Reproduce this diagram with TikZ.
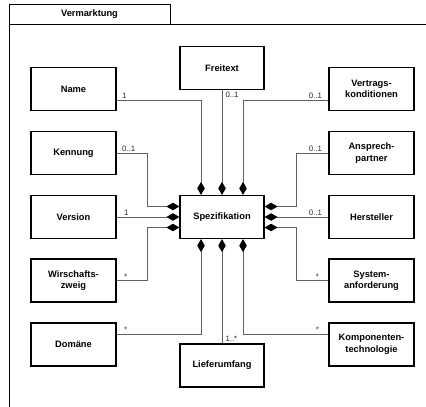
\documentclass[tikz,border=0pt]{standalone}
\usepackage{fontspec}
\setmainfont{Liberation Sans}
\usetikzlibrary{arrows.meta,calc}
\begin{document}
\begin{tikzpicture}[x=1pt,y=-1pt,
 box/.style={draw,line width=1.2pt,minimum width=85pt,minimum height=43pt,align=center,
   font=\bfseries\fontsize{9.3}{11.5}\selectfont,inner sep=0pt},
 cbox/.style={box,minimum width=84pt},
 conn/.style={draw=black!62,line width=1pt,-{Diamond[length=13pt,width=7.5pt,color=black]}},
 mult/.style={font=\fontsize{7.8}{9}\selectfont,inner sep=1pt,text=black!85},
 frame/.style={draw,line width=1pt}]
\useasboundingbox (0,0) rectangle (426,407);
% frame
\draw[frame] (9,407) -- (9,24) -- (426,24);
\node[frame,minimum width=161pt,minimum height=20pt,inner sep=0pt,
  font=\bfseries\fontsize{9.3}{11.5}\selectfont] (tab) at (89.5,14) {Vermarktung};
% left column
\node[box] (name) at (73.5,89) {Name};
\node[box] (kennung) at (73.5,153) {Kennung};
\node[box] (version) at (73.5,217) {Version};
\node[box] (wirt) at (73.5,280.5) {Wirschafts-\\zweig};
\node[box] (domaene) at (73.5,344.5) {Domäne};
% centre column
\node[cbox] (frei) at (222,68) {Freitext};
\node[cbox] (spez) at (222,217) {Spezifikation};
\node[cbox] (liefer) at (222,365.5) {Lieferumfang};
% right column
\node[box] (vertrag) at (371.5,89) {Vertrags-\\konditionen};
\node[box] (ansprech) at (371.5,153) {Ansprech-\\partner};
\node[box] (herst) at (371.5,217) {Hersteller};
\node[box] (system) at (371.5,280.5) {System-\\anforderung};
\node[box] (komp) at (371.5,344.5) {Komponenten-\\technologie};
% connectors top
\draw[conn] ([yshift=-11pt]name.east) node[mult,anchor=south west,xshift=4pt] {1}
  -| ([xshift=-21pt]spez.north);
\draw[conn] (frei.south) node[mult,anchor=north west,xshift=2pt] {0..1}
  -- (spez.north);
\draw[conn] ([yshift=-11pt]vertrag.west) node[mult,anchor=south east,xshift=-5pt] {0..1}
  -| ([xshift=21pt]spez.north);
% connectors left
\draw[conn] (kennung.east) node[mult,anchor=south west,xshift=4pt] {0..1}
  -- ++(31,0) |- ([yshift=10.5pt]spez.west);
\draw[conn] (version.east) node[mult,anchor=south west,xshift=6pt] {1}
  -- (spez.west);
\draw[conn] (wirt.east) node[mult,anchor=south west,xshift=6pt] {*}
  -- ++(31,0) |- ([yshift=-10.5pt]spez.west);
% connectors bottom
\draw[conn] ([yshift=10.5pt]domaene.east) node[mult,anchor=south west,xshift=6pt] {*}
  -| ([xshift=-21pt]spez.south);
\draw[conn] (liefer.north) node[mult,anchor=south west,xshift=2pt] {1..*}
  -- (spez.south);
\draw[conn] ([yshift=10.5pt]komp.west) node[mult,anchor=south east,xshift=-8pt] {*}
  -| ([xshift=21pt]spez.south);
% connectors right
\draw[conn] (ansprech.west) node[mult,anchor=south east,xshift=-5pt] {0..1}
  -- ++(-32,0) |- ([yshift=10.5pt]spez.east);
\draw[conn] (herst.west) node[mult,anchor=south east,xshift=-5pt] {0..1}
  -- (spez.east);
\draw[conn] (system.west) node[mult,anchor=south east,xshift=-8pt] {*}
  -- ++(-32,0) |- ([yshift=-10.5pt]spez.east);
\end{tikzpicture}
\end{document}
